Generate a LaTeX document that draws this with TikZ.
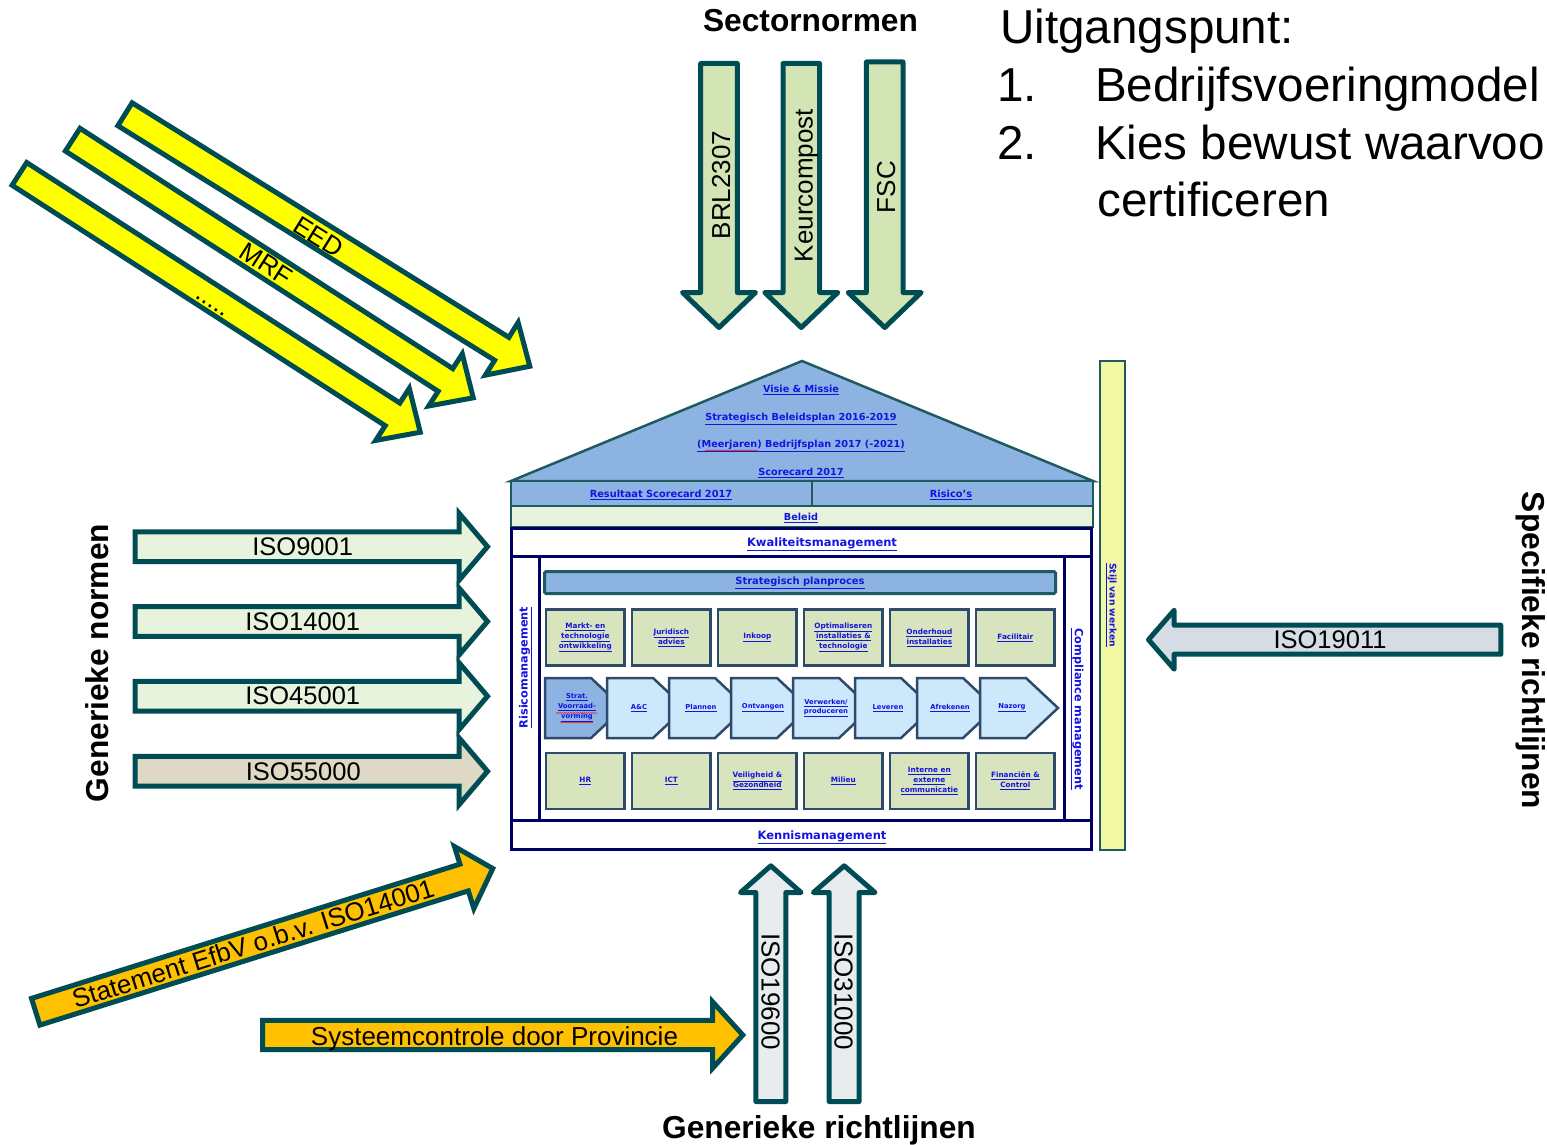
\documentclass[tikz,border=0pt]{standalone}
\usepackage{fontspec}
\setmainfont{Liberation Sans}
\newfontfamily\vfont{DejaVu Sans}
\usetikzlibrary{decorations.pathmorphing}

\definecolor{astroke}{RGB}{0,76,84}
\definecolor{yel}{RGB}{255,255,0}
\definecolor{orng}{RGB}{255,192,0}
\definecolor{secgreen}{RGB}{211,229,181}
\definecolor{isogreen}{RGB}{232,243,222}
\definecolor{isobeige}{RGB}{221,217,196}
\definecolor{isogray}{RGB}{213,220,228}
\definecolor{isolight}{RGB}{232,236,239}
\definecolor{roofblue}{RGB}{141,179,226}
\definecolor{hstroke}{RGB}{31,90,96}
\definecolor{beleidc}{RGB}{230,242,217}
\definecolor{navyc}{RGB}{0,0,102}
\definecolor{boxgreen}{RGB}{215,228,189}
\definecolor{boxline}{RGB}{47,75,108}
\definecolor{procblue}{RGB}{205,232,250}
\definecolor{stijlc}{RGB}{242,247,163}
\definecolor{linkc}{RGB}{20,20,225}

\newcommand\lnk[1]{\underline{#1}}

% #1 name, #2 tail "x,y", #3 angle, #4 length, #5 shaft half width,
% #6 head half width, #7 head length, #8 style
\newcommand\barrow[8]{%
  \begin{scope}[shift={(#2)},rotate=#3]
    \draw[#8] (0,-#5) -- ({#4-#7},-#5) -- ({#4-#7},-#6) -- (#4,0)
      -- ({#4-#7},#6) -- ({#4-#7},#5) -- (0,#5) -- cycle;
    \coordinate (#1-tail) at (0,0);
    \coordinate (#1-tip) at (#4,0);
  \end{scope}}

\tikzset{
  arrowline/.style={draw=astroke, line width=5pt, line join=miter, miter limit=10},
  rarrow/.style={draw=astroke, line width=5pt, line join=round},
  alabel/.style={inner sep=0pt, font=\fontsize{26}{26}\selectfont},
  isolabel/.style={inner sep=0pt, font=\fontsize{25.5}{26}\selectfont},
  bighead/.style={inner sep=0pt, font=\bfseries\fontsize{31.7}{32}\selectfont},
  hugetext/.style={inner sep=0pt, anchor=base west, font=\fontsize{47.6}{57}\selectfont},
  hl/.style={inner sep=0pt, text=linkc, align=center, font=\vfont\bfseries\fontsize{#1}{10}\selectfont},
  hbox/.style={draw=hstroke, line width=2.5pt},
  navyline/.style={draw=navyc, line width=3pt},
  gbox/.style={draw=boxline, line width=2.5pt, fill=boxgreen, minimum width=78.3pt,
     minimum height=56pt, inner sep=0pt, text=linkc, align=center,
     font=\vfont\bfseries\fontsize{7.3}{10}\selectfont},
  procline/.style={draw=boxline, line width=2.5pt, line join=miter},
  squig/.style={draw=red, line width=0.5pt, decorate,
     decoration={snake, amplitude=0.5pt, segment length=2pt}}
}

\begin{document}
\begin{tikzpicture}[x=1pt,y=-1pt]
\useasboundingbox (0,0) rectangle (1547,1145);
\fill[white] (0,0) rectangle (1547,1145);

% ---------- yellow diagonal arrows ----------
\barrow{eed}{125,114.3}{-31.9}{476.8}{13.5}{31}{33}{arrowline,fill=yel}
\barrow{mrf}{72.7,139.7}{-32.8}{476.5}{13.5}{31}{33}{arrowline,fill=yel}
\barrow{dots}{19.4,173.9}{-32.8}{476.9}{13.5}{31}{33}{arrowline,fill=yel}
\node[alabel, rotate=-31.9] (leed) at (318.5,236.7) {EED};
\node[alabel, rotate=-32.8] (lmrf) at (266.5,264) {MRF};
\node[alabel, rotate=-32.8] (ldots) at (210,306) {.....};

% ---------- sector arrows ----------
\node[bighead, anchor=base] (sect) at (810.5,32) {Sectornormen};
\barrow{brl}{719,63.5}{-90}{264}{18.3}{36.5}{35}{rarrow,fill=secgreen}
\barrow{keur}{801.3,63.5}{-90}{264}{18.3}{36.5}{35}{rarrow,fill=secgreen}
\barrow{fsc}{884.7,62}{-90}{265.5}{18.3}{36.5}{35}{rarrow,fill=secgreen}
\node[alabel, rotate=90, anchor=base] (lbrl) at (730,185) {BRL2307};
\node[alabel, rotate=90, anchor=base] (lkeur) at (812.5,185.5) {Keurcompost};
\node[alabel, rotate=90, anchor=base] (lfsc) at (895,187) {FSC};

% ---------- top right text ----------
\node[hugetext] (uit) at (1000,44) {Uitgangspunt:};
\node[hugetext] (n1) at (997,101.5) {1.};
\node[hugetext] (t1) at (1095,101.5) {Bedrijfsvoeringmodel};
\node[hugetext] (n2) at (997,160) {2.};
\node[hugetext] (t2) at (1095,160) {Kies bewust waarvoo};
\node[hugetext] (t3) at (1097,216.5) {certificeren};

% ---------- left generic norms ----------
\node[bighead, rotate=90, anchor=base] (gnorm) at (108,663) {Generieke normen};
\barrow{iso9}{135,546.7}{0}{352.5}{14.85}{33.3}{28.3}{arrowline,fill=isogreen}
\barrow{iso14}{135,621.5}{0}{352.5}{14.85}{33.3}{28.3}{arrowline,fill=isogreen}
\barrow{iso45}{135,696.2}{0}{352.5}{14.85}{33.3}{28.3}{arrowline,fill=isogreen}
\barrow{iso55}{135,771.3}{0}{352.5}{14.85}{33.3}{28.3}{arrowline,fill=isobeige}
\node[isolabel] (liso9) at (302.7,546.7) {ISO9001};
\node[isolabel] (liso14) at (302.7,621.5) {ISO14001};
\node[isolabel] (liso45) at (302.7,696.2) {ISO45001};
\node[isolabel] (liso55) at (303.3,771.3) {ISO55000};

% ---------- right specific ----------
\node[bighead, rotate=-90, anchor=base] (spec) at (1522,650.5) {Specifieke richtlijnen};
\barrow{iso19011}{1500.8,639.7}{180}{352.3}{14.5}{29.5}{25.7}{rarrow,fill=isogray}
\node[isolabel] (liso19011) at (1330,640) {ISO19011};

% ---------- bottom ----------
\barrow{stat}{35.7,1011.75}{17.4}{479}{14}{32.5}{30}{arrowline,fill=orng}
\node[alabel, rotate=17.4] (lstat) at (253,943.5) {Statement EfbV o.b.v. ISO14001};
\barrow{sys}{262.5,1035}{0}{480.3}{14.7}{33.3}{30.3}{arrowline,fill=orng}
\node[alabel, anchor=base] (lsys) at (494.5,1045.4) {Systeemcontrole door Provincie};
\barrow{iso196}{770.8,1101.5}{90}{235.7}{15}{30.3}{26.7}{rarrow,fill=isolight}
\barrow{iso310}{844.2,1101.5}{90}{235.7}{15}{30.8}{26.7}{rarrow,fill=isolight}
\node[alabel, rotate=-90] (liso196) at (770.5,991.7) {ISO19600};
\node[alabel, rotate=-90] (liso310) at (843.5,991.7) {ISO31000};
\node[bighead, anchor=base] (grl) at (819,1138) {Generieke richtlijnen};

% ---------- house ----------
\draw[hbox, fill=roofblue, line join=miter] (511,481) -- (802,361) -- (1093,481) -- cycle;
\draw[hbox, fill=roofblue] (511,481) rectangle (1093,506);
\draw[hbox] (812,481) -- (812,506);
\draw[hbox, fill=beleidc] (511,506) rectangle (1093,527);
\node[hl=9.7, anchor=base] (visie) at (801,392.5) {\lnk{Visie \& Missie}};
\node[hl=9.7, anchor=base] (sbp) at (801,420.5) {\lnk{Strategisch Beleidsplan 2016-2019}};
\node[hl=9.7, anchor=base] (mbp) at (801,447.5) {\lnk{(Meerjaren) Bedrijfsplan 2017 (-2021)}};
\draw[squig] (705,450.5) -- (758,450.5);
\node[hl=9.7, anchor=base] (sc) at (801,475.5) {\lnk{Scorecard 2017}};
\node[hl=9.8, anchor=base] (res) at (661,497.5) {\lnk{Resultaat Scorecard 2017}};
\node[hl=9.8, anchor=base] (ris) at (951,497.5) {\lnk{Risico’s}};
\node[hl=9.7, anchor=base] (bel) at (801,520.5) {\lnk{Beleid}};

\draw[navyline, fill=white] (511.5,528) rectangle (1091.5,849.5);
\draw[navyline] (511.5,556.5) -- (1091.5,556.5);
\draw[navyline] (511.5,820) -- (1091.5,820);
\draw[navyline] (539,556.5) -- (539,820);
\draw[navyline] (1064.5,556.5) -- (1064.5,820);
\node[hl=11.5, anchor=base] (kwal) at (822,546) {\lnk{Kwaliteitsmanagement}};
\node[hl=11.5, anchor=base] (kennis) at (822,839) {\lnk{Kennismanagement}};
\node[hl=11.3, rotate=90] (risico) at (525.5,667.5) {\lnk{Risicomanagement}};
\node[hl=11.3, rotate=-90] (compl) at (1077,709) {\lnk{Compliance management}};

\node[draw=hstroke, line width=3pt, fill=roofblue, minimum width=511pt, minimum height=22pt,
      rounded corners=1.5pt, inner sep=0pt, text=linkc,
      font=\vfont\bfseries\fontsize{9.9}{10}\selectfont] (spp) at (800,582.5) {\lnk{Strategisch planproces}};

% top row boxes
\node[gbox] (b1) at (585.35,637.5) {\lnk{Markt- en}\\\lnk{technologie}\\\lnk{ontwikkeling}};
\node[gbox] (b2) at (671.35,637.5) {\lnk{Juridisch}\\\lnk{advies}};
\node[gbox] (b3) at (757.35,637.5) {\lnk{Inkoop}};
\node[gbox] (b4) at (843.35,637.5) {\lnk{Optimaliseren}\\\lnk{installaties \&}\\\lnk{technologie}};
\node[gbox] (b5) at (929.35,637.5) {\lnk{Onderhoud}\\\lnk{installaties}};
\node[gbox] (b6) at (1015.35,637.5) {\lnk{Facilitair}};
% bottom row boxes
\node[gbox] (c1) at (585.35,781) {\lnk{HR}};
\node[gbox] (c2) at (671.35,781) {\lnk{ICT}};
\node[gbox] (c3) at (757.35,781) {\lnk{Veiligheid \&}\\\lnk{Gezondheid}};
\node[gbox] (c4) at (843.35,781) {\lnk{Milieu}};
\node[gbox] (c5) at (929.35,781) {\lnk{Interne en}\\\lnk{externe}\\\lnk{communicatie}};
\node[gbox] (c6) at (1015.35,781) {\lnk{Financiën \&}\\\lnk{Control}};

% process chevrons
\foreach \x/\f in {545/roofblue,607/procblue,669/procblue,731/procblue,793/procblue,855/procblue,917/procblue,980/procblue}{
  \draw[procline, fill=\f] (\x,678) -- ({\x+46},678) -- ({\x+78},708) -- ({\x+46},738) -- (\x,738) -- cycle;
}
\node[hl=6.8] (p1) at (577,708) {\lnk{Strat.}\\\lnk{Voorraad-}\\\lnk{vorming}};
\draw[squig] (556,713) -- (597,713);
\draw[squig] (560,722.5) -- (593,722.5);
\node[hl=6.8] (p2) at (639,708) {\lnk{A\&C}};
\node[hl=6.8] (p3) at (701,708) {\lnk{Plannen}};
\node[hl=6.8] (p4) at (763,708) {\lnk{Ontvangen}};
\node[hl=6.8, font=\vfont\bfseries\fontsize{6.8}{9}\selectfont] (p5) at (826,708) {\lnk{Verwerken/}\\\lnk{produceren}};
\node[hl=6.8] (p6) at (888,708) {\lnk{Leveren}};
\node[hl=6.8] (p7) at (950,708) {\lnk{Afrekenen}};
\node[hl=6.8] (p8) at (1012,708) {\lnk{Nazorg}};

% stijl van werken bar
\draw[draw=hstroke, line width=2pt, fill=stijlc] (1100,361) rectangle (1125,850);
\node[hl=9.2, rotate=-90] (stijl) at (1111,605) {\lnk{Stijl van werken}};
\end{tikzpicture}
\end{document}
